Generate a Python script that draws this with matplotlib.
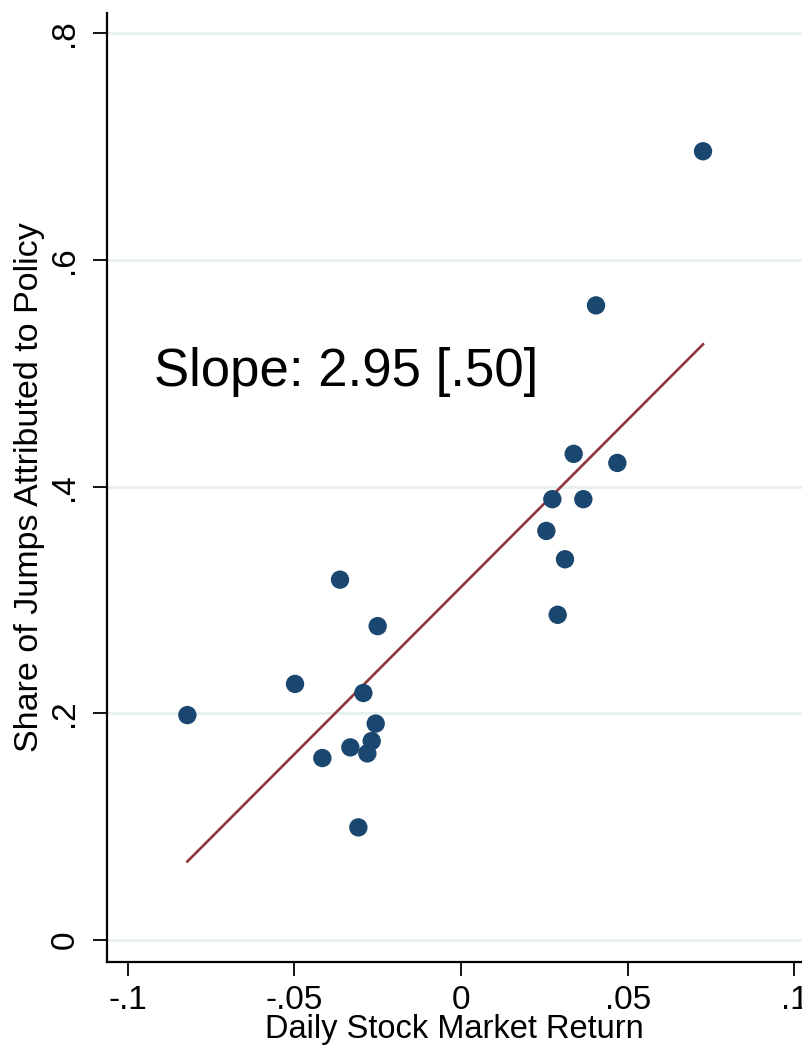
import matplotlib
matplotlib.use("Agg")
import matplotlib.pyplot as plt
import numpy as np

plt.rcParams['font.family'] = ['Liberation Sans', 'DejaVu Sans']

# Data
daily_return = [0.0726, 0.0405, 0.0338, 0.0469, 0.0274, 0.0367, 0.0256, 0.0312, 0.0290,
                -0.0363, -0.0250, -0.0498, -0.0293, -0.0821, -0.0256, -0.0268, -0.0332,
                -0.0281, -0.0416, -0.0308]
policy_share = [0.696, 0.560, 0.429, 0.421, 0.389, 0.389, 0.361, 0.336, 0.287,
                0.318, 0.277, 0.226, 0.218, 0.1985, 0.191, 0.1756, 0.170,
                0.1647, 0.1606, 0.0994]
fit_slope = 2.95
fit_intercept = 0.3115
slope_text = "Slope: 2.95 [.50]"
x_ticks = [-0.1, -0.05, 0, 0.05, 0.1]
x_ticklabels = ["-.1", "-.05", "0", ".05", ".1"]
y_ticks = [0, 0.2, 0.4, 0.6, 0.8]
y_ticklabels = ["0", ".2", ".4", ".6", ".8"]

fig = plt.figure(figsize=(8.03, 10.52), dpi=100)
ax = fig.add_axes([106.7 / 803, 90.3 / 1052, 1 - 106.7 / 803, (961.7 - 13) / 1052])

ax.set_xlim(-0.1063, 0.1026)
ax.set_ylim(-0.0191, 0.818)

for yt in y_ticks:
    ax.axhline(yt, color='#e7eff1', lw=2.0, zorder=0)

x = np.array(daily_return)
xs = np.array([x.min(), x.max()])
ax.plot(xs, fit_intercept + fit_slope * xs, color='#903539', lw=1.9, zorder=2)
ax.scatter(daily_return, policy_share, s=175, color='#1a4770', edgecolors='none', zorder=3)

ax.text(-0.0922, 0.501, slope_text, fontsize=38, ha='left', va='center', color='black')

ax.set_xticks(x_ticks)
ax.set_xticklabels(x_ticklabels)
ax.set_yticks(y_ticks)
ax.set_yticklabels(y_ticklabels, rotation=90, va='center')

ax.tick_params(axis='both', length=10, width=1.3, labelsize=24, color='black')
ax.tick_params(axis='x', pad=7)
ax.tick_params(axis='y', pad=9)

for s in ['top', 'right']:
    ax.spines[s].set_visible(False)
for s in ['left', 'bottom']:
    ax.spines[s].set_linewidth(1.6)

ax.set_xlabel("Daily Stock Market Return", fontsize=23.5, labelpad=-2)
ax.set_ylabel("Share of Jumps Attributed to Policy", fontsize=24.5, labelpad=3)

fig.savefig("out.png", dpi=100, facecolor='white')
